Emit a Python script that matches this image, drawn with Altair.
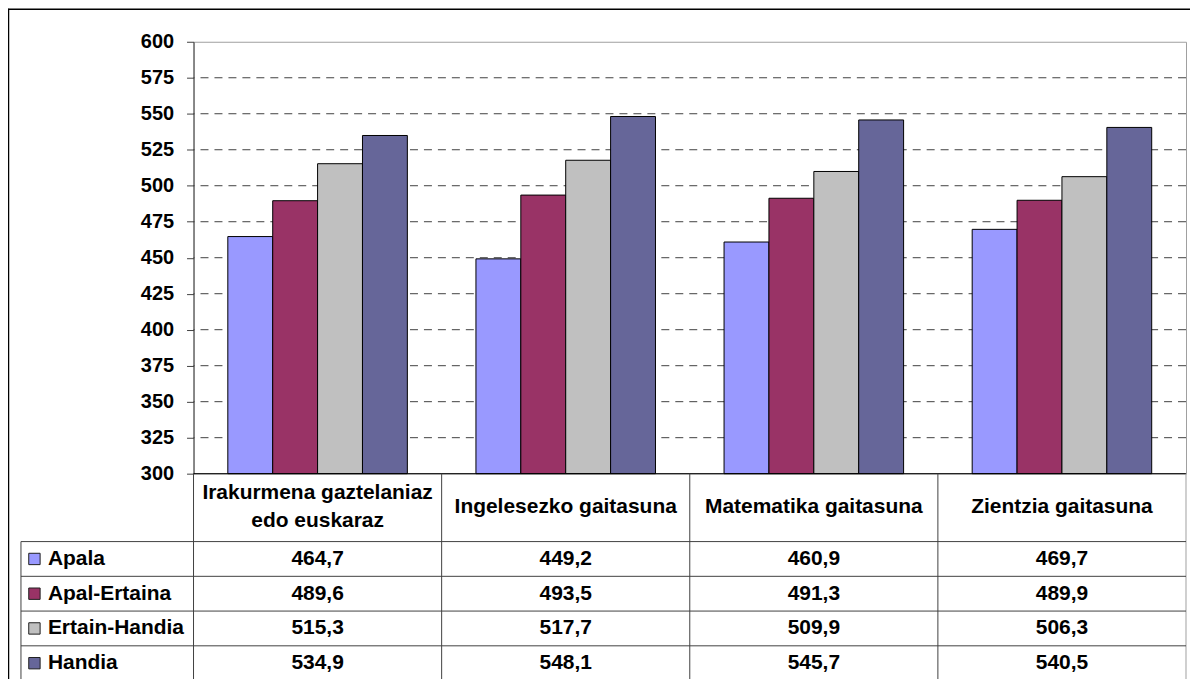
import altair as alt
import pandas as pd

# ---------------- data ----------------
categories = ["Irakurmena gaztelaniaz edo euskaraz", "Ingelesezko gaitasuna",
              "Matematika gaitasuna", "Zientzia gaitasuna"]
header_labels = ["Irakurmena gaztelaniaz\nedo euskaraz", "Ingelesezko gaitasuna",
                 "Matematika gaitasuna", "Zientzia gaitasuna"]
series = ["Apala", "Apal-Ertaina", "Ertain-Handia", "Handia"]
apala = [464.7, 449.2, 460.9, 469.7]
apal_ertaina = [489.6, 493.5, 491.3, 489.9]
ertain_handia = [515.3, 517.7, 509.9, 506.3]
handia = [534.9, 548.1, 545.7, 540.5]
colors = ["#9999FF", "#993366", "#C0C0C0", "#666699"]
y_ticks = [300, 325, 350, 375, 400, 425, 450, 475, 500, 525, 550, 575, 600]

# ---------------- layout ----------------
W, H = 995, 433
ROW_TOP, ROW_BOTTOM = 518.5, 623     # centres of first/last table rows
LEFT_COL = -173                      # left edge of table
TABLE_BOTTOM = 639.4
HEADER_Y = 466.5
LINE_H = 28
FONT = "Liberation Sans"
FS = 21
FS_AXIS = 20
LINE = "#404040"

values = [apala, apal_ertaina, ertain_handia, handia]
rows = []
for si, s in enumerate(series):
    for ci, c in enumerate(categories):
        v = values[si][ci]
        rows.append({"category": c, "series": s, "row": si, "value": v,
                     "label": f"{v:.1f}".replace(".", ",")})
df = pd.DataFrame(rows)
df_series = pd.DataFrame({"series": series, "row": list(range(len(series)))})
df_header = pd.DataFrame({"category": categories, "header": header_labels,
                          "lines": [h.count("\n") + 1 for h in header_labels]})
df_grid = pd.DataFrame({"v": y_ticks[1:-1]})
df_base = pd.DataFrame({"v": [y_ticks[0]]})
df_bounds = pd.DataFrame({"b": list(range(len(categories) + 1))})
df_rowlines = pd.DataFrame({"r": [i - 0.5 for i in range(len(series) + 1)]})
df_leftedge = pd.DataFrame({"r1": [-0.5], "r2": [len(series) - 0.5]})

x_band = alt.Scale(type="band", domain=categories, paddingInner=0, paddingOuter=0)
x_off = alt.Scale(domain=series, paddingInner=0, paddingOuter=0.764)
y_val = alt.Scale(domain=[300, 600], nice=False, zero=False)
row_scale = alt.Scale(domain=[0, len(series) - 1], range=[ROW_TOP, ROW_BOTTOM],
                      nice=False, zero=False)
color_scale = alt.Scale(domain=series, range=colors)
bound_scale = alt.Scale(domain=[0, len(categories)], nice=False, zero=False)

grid = alt.Chart(df_grid).mark_rule(color=LINE, strokeDash=[8, 6], strokeWidth=1).encode(
    y=alt.Y("v:Q", scale=y_val, axis=None)
)

bars = alt.Chart(df).mark_bar(stroke="black", strokeWidth=1).encode(
    x=alt.X("category:N", scale=x_band, sort=categories, axis=None),
    xOffset=alt.XOffset("series:N", scale=x_off, sort=series),
    y=alt.Y("value:Q", scale=y_val,
            axis=alt.Axis(values=y_ticks, grid=False, title=None, tickSize=7,
                          labelPadding=13, domainColor=LINE, tickColor=LINE)),
    y2=alt.datum(300),
    color=alt.Color("series:N", scale=color_scale, legend=None),
)

baseline = alt.Chart(df_base).mark_rule(color="black", strokeWidth=1).encode(
    y=alt.Y("v:Q", scale=y_val, axis=None)
)

vlines = alt.Chart(df_bounds).mark_rule(strokeWidth=1).encode(
    x=alt.X("b:Q", scale=bound_scale, axis=None),
    y=alt.value(H),
    y2=alt.value(TABLE_BOTTOM),
    color=alt.condition(f"datum.b == {len(categories)}", alt.value("#a0a0a0"), alt.value(LINE)),
)

hlines = alt.Chart(df_rowlines).mark_rule(color=LINE, strokeWidth=1).encode(
    y=alt.Y("r:Q", scale=row_scale.copy(), axis=None),
    x=alt.value(LEFT_COL),
    x2=alt.value(W),
)

leftedge = alt.Chart(df_leftedge).mark_rule(color=LINE, strokeWidth=1).encode(
    x=alt.value(LEFT_COL),
    y=alt.Y("r1:Q", scale=row_scale, axis=None),
    y2="r2:Q",
)

def header_layer(n_lines):
    return alt.Chart(df_header).transform_filter(
        f"datum.lines == {n_lines}"
    ).mark_text(
        font=FONT, fontSize=FS, fontWeight="bold", color="black",
        lineBreak="\n", lineHeight=LINE_H, baseline="middle", align="center",
        dy=-(n_lines - 1) * LINE_H / 2,
    ).encode(
        x=alt.X("category:N", scale=x_band, sort=categories, axis=None),
        y=alt.value(HEADER_Y),
        text="header:N",
    )

header1 = header_layer(1)
header2 = header_layer(2)

cells = alt.Chart(df).mark_text(
    font=FONT, fontSize=FS, fontWeight="bold", color="black",
    baseline="middle", align="center"
).encode(
    x=alt.X("category:N", scale=x_band, sort=categories, axis=None),
    y=alt.Y("row:Q", scale=row_scale, axis=None),
    text="label:N",
)

squares = alt.Chart(df_series).mark_square(size=130, stroke="#202020", strokeWidth=1, opacity=1).encode(
    x=alt.value(-159.5),
    y=alt.Y("row:Q", scale=row_scale, axis=None),
    color=alt.Color("series:N", scale=color_scale, legend=None),
)

rowlabels = alt.Chart(df_series).mark_text(
    font=FONT, fontSize=FS, fontWeight="bold", color="black",
    baseline="middle", align="left"
).encode(
    x=alt.value(-146),
    y=alt.Y("row:Q", scale=row_scale, axis=None),
    text="series:N",
)

frame_df = pd.DataFrame({"k": [0]})
frame_top = alt.Chart(frame_df).mark_rule(color="black", strokeWidth=1.5).encode(
    x=alt.value(-186), x2=alt.value(W + 20), y=alt.value(-32.5)
)
frame_left = alt.Chart(frame_df).mark_rule(color="black", strokeWidth=1.5).encode(
    x=alt.value(-185.5), y=alt.value(-33), y2=alt.value(TABLE_BOTTOM + 20)
)

chart = alt.layer(
    grid, bars, baseline, vlines, hlines, leftedge, header1, header2, cells, squares,
    rowlabels, frame_top, frame_left
).resolve_scale(
    x="independent", y="independent"
).properties(
    width=W, height=H,
    autosize=alt.AutoSizeParams(type="none"),
    padding={"left": 186, "top": 33, "right": 4, "bottom": 205},
).configure_view(
    stroke="#a0a0a0", strokeWidth=1
).configure_axis(
    labelFont=FONT, labelFontSize=FS_AXIS, labelFontWeight="bold", labelColor="black"
)

chart.save("out.html", embed_options={"renderer": "svg", "actions": False})
